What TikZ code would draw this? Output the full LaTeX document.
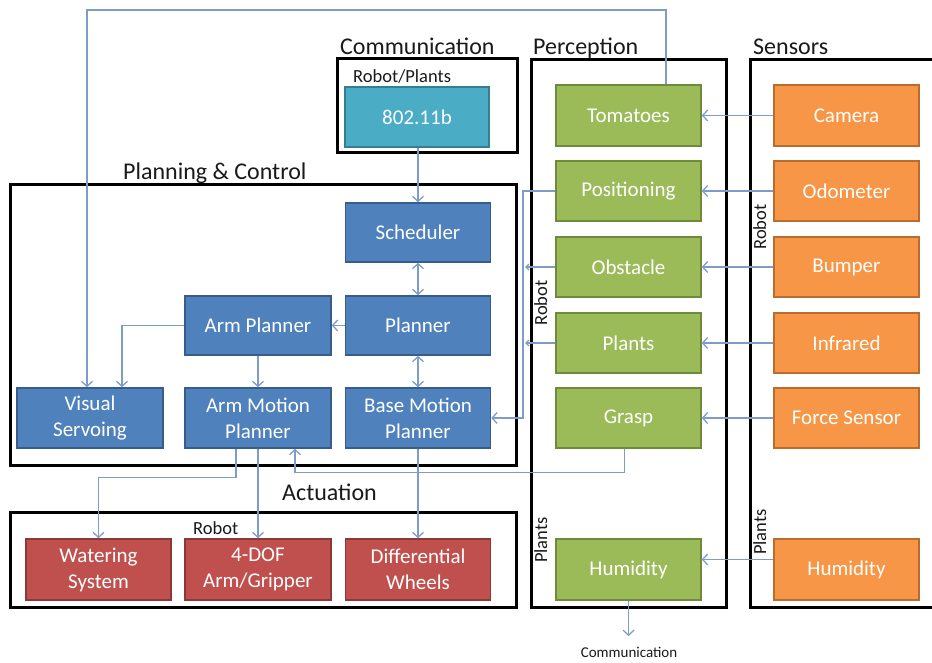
\documentclass[tikz,border=0pt]{standalone}
\usepackage{fontspec}
\setmainfont{Carlito}
\usetikzlibrary{arrows.meta,calc}
\definecolor{bluef}{HTML}{4F81BD}
\definecolor{blued}{HTML}{385D8A}
\definecolor{greenf}{HTML}{9BBB59}
\definecolor{greend}{HTML}{6E8A3B}
\definecolor{orangef}{HTML}{F79646}
\definecolor{oranged}{HTML}{B86D2E}
\definecolor{tealf}{HTML}{4BACC6}
\definecolor{teald}{HTML}{357D91}
\definecolor{redf}{HTML}{C0504D}
\definecolor{redd}{HTML}{8C3836}
\definecolor{connc}{HTML}{7E9CC6}
\definecolor{headc}{HTML}{1A1A1A}
\begin{document}
\begin{tikzpicture}[x=1pt,y=-1pt,
  box/.style={draw, line width=1.6pt, minimum width=145pt, minimum height=60pt, inner sep=2pt, text=white, font=\fontsize{21}{26}\selectfont, align=center},
  bbox/.style={box, fill=bluef, draw=blued},
  gbox/.style={box, fill=greenf, draw=greend},
  obox/.style={box, fill=orangef, draw=oranged},
  tbox/.style={box, fill=tealf, draw=teald},
  rbox/.style={box, fill=redf, draw=redd},
  cont/.style={draw=black, line width=3pt},
  head/.style={font=\fontsize{24}{26}\selectfont, text=headc, anchor=base west, inner sep=0pt},
  small/.style={font=\fontsize{18.5}{20}\selectfont, text=headc, inner sep=0pt},
  conn/.style={draw=connc, line width=1.3pt},
  arr/.style={conn, -{Straight Barb[length=5pt,width=11pt]}},
  sarr/.style={conn, -{Straight Barb[length=3pt,width=6pt]}},
  darr/.style={conn, {Straight Barb[length=5pt,width=11pt]}-{Straight Barb[length=5pt,width=11pt]}},
]
\useasboundingbox (0,0) rectangle (932,663);
\fill[white] (0,0) rectangle (932,663);

% containers
\draw[cont] (337,59) rectangle (517,153);
\draw[cont] (10,185) rectangle (516,465);
\draw[cont] (10,512) rectangle (516,607);
\draw[cont] (531,60) rectangle (726,607);
\draw[cont] (750,60) rectangle (945,607);

% headings
\node[head] (hcomm) at (340,55) {Communication};
\node[head] (hperc) at (533,55) {Perception};
\node[head] (hsens) at (753,55) {Sensors};
\node[head] (hpc) at (123,180) {Planning \& Control};
\node[head] (hact) at (282,500) {Actuation};
\node[small, anchor=base west] (lrp) at (353,83) {Robot/Plants};
\node[small, anchor=base west] (lar) at (193,534) {Robot};
\node[small, rotate=90, anchor=north] (lpr) at (534,303) {Robot};
\node[small, rotate=90, anchor=north] (lpp) at (534,540) {Plants};
\node[small, rotate=90, anchor=north] (lsr) at (753,227) {Robot};
\node[small, rotate=90, anchor=north] (lsp) at (753,532) {Plants};

% communication
\node[tbox, minimum width=144pt] (w802) at (417,117) {802.11b};

% planning & control
\node[bbox, minimum height=59pt] (sched) at (418,232.5) {Scheduler};
\node[bbox, minimum height=59pt] (plan) at (418,325.5) {Planner};
\node[bbox, minimum height=59pt, minimum width=146pt] (armpl) at (258,325.5) {Arm Planner};
\node[bbox, minimum width=146pt] (vs) at (90,418) {Visual\\Servoing};
\node[bbox, minimum width=146pt] (amp) at (258,418) {Arm Motion\\Planner};
\node[bbox] (bmp) at (418,418) {Base Motion\\Planner};

% actuation
\node[rbox, minimum height=61pt] (water) at (98.5,569.5) {Watering\\System};
\node[rbox, minimum height=61pt, minimum width=146pt] (dof) at (258,569.5) {4-DOF\\Arm/Gripper};
\node[rbox, minimum height=61pt] (diff) at (418,569.5) {Differential\\Wheels};

% perception
\node[gbox, minimum height=61pt] (tom) at (628.5,115.5) {Tomatoes};
\node[gbox] (pos) at (628.5,191) {Positioning};
\node[gbox] (obs) at (628.5,267) {Obstacle};
\node[gbox] (pla) at (628.5,343) {Plants};
\node[gbox] (gra) at (628.5,418) {Grasp};
\node[gbox, minimum height=61pt] (hump) at (628.5,569.5) {Humidity};

% sensors
\node[obox, minimum height=61pt] (cam) at (846.5,115.5) {Camera};
\node[obox] (odo) at (846.5,191) {Odometer};
\node[obox] (bum) at (846.5,267) {Bumper};
\node[obox] (inf) at (846.5,343) {Infrared};
\node[obox] (frc) at (846.5,418) {Force Sensor};
\node[obox, minimum height=61pt] (hums) at (846.5,569.5) {Humidity};

\node[font=\fontsize{15}{16}\selectfont, text=headc, inner sep=0pt, anchor=base] (ctxt) at (629,657) {Communication};
\coordinate (carr) at (628.5,636);
\coordinate (fbk) at (87,10);
\coordinate (bus) at (523,191);

% connectors
\draw[arr] (w802.south -| sched.north) -- (sched.north);
\draw[darr] (sched.south) -- (plan.north);
\draw[darr] (plan.south) -- (bmp.north);
\draw[arr] (plan.west) -- (armpl.east);
\draw[arr] (armpl.south) -- (amp.north);
\draw[arr] (armpl.west) -| ([xshift=32pt]vs.north);
\draw[arr] ([xshift=37.5pt]tom.north) |- (fbk) -- (fbk |- vs.north);
\draw[arr] (pos.west) -- (bus) |- (bmp.east);
\draw[sarr] (obs.west) -- ([xshift=2pt]obs.west -| bus);
\draw[sarr] (pla.west) -- ([xshift=2pt]pla.west -| bus);
\draw[arr] ([xshift=-4pt]gra.south) -- ++(0,24) -| ([xshift=37pt]amp.south);
\draw[arr] ([xshift=-22pt]amp.south) -- ++(0,29) -| (water.north);
\draw[arr] (amp.south) -- (dof.north);
\draw[arr] (bmp.south) -- (diff.north);
\draw[arr] (cam.west) -- (tom.east);
\draw[arr] (odo.west) -- (pos.east);
\draw[arr] (bum.west) -- (obs.east);
\draw[arr] (inf.west) -- (pla.east);
\draw[arr] (frc.west) -- (gra.east);
\draw[arr] ([yshift=10pt]hums.west) -- ([yshift=10pt]hump.east);
\draw[arr] (hump.south) -- (carr);
\end{tikzpicture}
\end{document}
